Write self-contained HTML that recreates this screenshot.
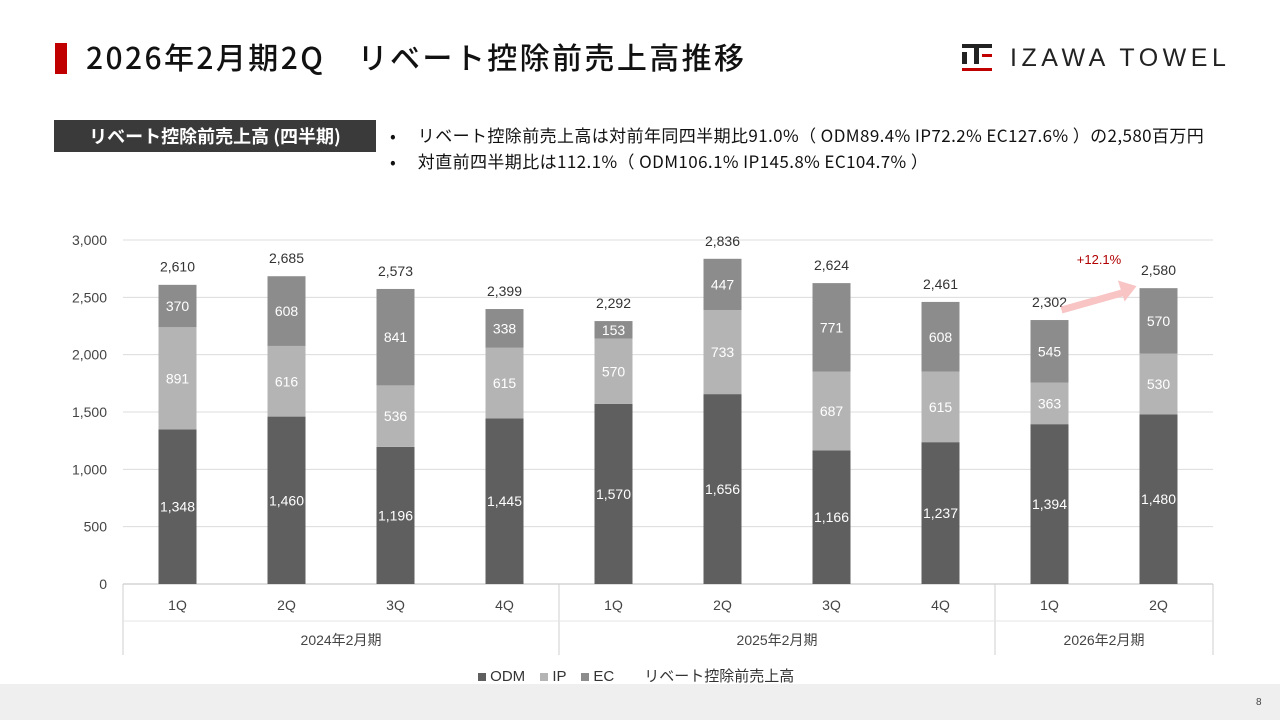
<!DOCTYPE html>
<html><head><meta charset="utf-8"><style>
body{margin:0;width:1280px;height:720px;background:#fff;font-family:"Liberation Sans","Noto Sans CJK JP",sans-serif;position:relative;overflow:hidden}
.abs{position:absolute}
</style></head><body>
<div class="abs" style="left:55px;top:43px;width:12px;height:31px;background:#c00000"></div>
<div class="abs" style="left:86px;top:34px;font-family:'Noto Sans CJK JP',sans-serif;font-size:30px;font-weight:500;color:#111;letter-spacing:2.4px;white-space:nowrap">2026年2月期2Q　リベート控除前売上高推移</div>
<div class="abs" style="left:962px;top:44px;width:32px;height:28px">
 <div class="abs" style="left:0;top:0;width:30px;height:4px;background:#222"></div>
 <div class="abs" style="left:0;top:8px;width:5px;height:12px;background:#222"></div>
 <div class="abs" style="left:12px;top:0;width:5px;height:20px;background:#222"></div>
 <div class="abs" style="left:20px;top:10px;width:10px;height:3px;background:#c00000"></div>
 <div class="abs" style="left:0;top:24px;width:30px;height:3px;background:#c00000"></div>
</div>
<div class="abs" style="left:1010px;top:44px;font-size:25px;letter-spacing:4.5px;color:#222">IZAWA TOWEL</div>
<div class="abs" style="left:54px;top:120px;width:322px;height:32px;background:#3a3a3a;color:#fff;font-family:'Noto Sans CJK JP',sans-serif;font-size:18px;font-weight:bold;line-height:32px;text-align:center">リベート控除前売上高 (四半期)</div>
<div class="abs" style="left:390px;top:122px;font-family:'Noto Sans CJK JP',sans-serif;font-size:17px;letter-spacing:0.4px;color:#111;white-space:nowrap">•　 リベート控除前売上高は対前年同四半期比91.0%（ ODM89.4% IP72.2% EC127.6% ）の2,580百万円</div>
<div class="abs" style="left:390px;top:148px;font-family:'Noto Sans CJK JP',sans-serif;font-size:17px;letter-spacing:0.4px;color:#111;white-space:nowrap">•　 対直前四半期比は112.1%（ ODM106.1% IP145.8% EC104.7% ）</div>
<svg class="abs" style="left:0;top:0" width="1280" height="720" id="chart"></svg>
<div class="abs" style="left:0;top:684px;width:1280px;height:36px;background:#efefef"></div>
<div class="abs" style="left:478px;top:665px;font-size:15px;color:#333">
<span style="display:inline-block;width:8px;height:8px;background:#5f5f5f"></span> ODM　<span style="display:inline-block;width:8px;height:8px;background:#b4b4b4"></span> IP　<span style="display:inline-block;width:8px;height:8px;background:#8c8c8c"></span> EC　　リベート控除前売上高</div>
<div class="abs" style="left:1256px;top:697px;font-size:10px;color:#444">8</div>
<script>
const categories=["1Q","2Q","3Q","4Q","1Q","2Q","3Q","4Q","1Q","2Q"];
const years=["2024年2月期","2025年2月期","2026年2月期"];
const yearSpans=[4,4,2];
const odm=[1348,1460,1196,1445,1570,1656,1166,1237,1394,1480];
const ip=[891,616,536,615,570,733,687,615,363,530];
const ec=[370,608,841,338,153,447,771,608,545,570];
const totals=[2610,2685,2573,2399,2292,2836,2624,2461,2302,2580];
const yTicks=[0,500,1000,1500,2000,2500,3000];
const ns="http://www.w3.org/2000/svg",svg=document.getElementById('chart');
const L=123,R=1213,Y0=584,Y1=240,cw=(R-L)/categories.length,bw=38;
const y=v=>Y0-(Y0-Y1)*v/3000,x=i=>L+cw*(i+0.5);
function el(t,a,txt){const e=document.createElementNS(ns,t);for(const k in a)e.setAttribute(k,a[k]);if(txt!=null)e.textContent=txt;svg.appendChild(e);return e;}
yTicks.forEach(t=>{
 const g=el('line',{x1:L,x2:R,y1:y(t),y2:y(t),stroke:t?'#dcdcdc':'#bfbfbf'});


 const tx=el('text',{x:107,y:y(t)+5,'text-anchor':'end','font-size':14,fill:'#444'},t.toLocaleString());


});
const fmt=v=>v.toLocaleString();
categories.forEach((c,i)=>{
 const segs=[[0,odm[i],'#5f5f5f'],[odm[i],odm[i]+ip[i],'#b4b4b4'],[odm[i]+ip[i],odm[i]+ip[i]+ec[i],'#8c8c8c']];
 const names=['bar-odm','bar-ip','bar-ec'],vals=[odm[i],ip[i],ec[i]];
 segs.forEach((s,k)=>{
  const r=el('rect',{x:x(i)-bw/2,y:y(s[1]),width:bw,height:y(s[0])-y(s[1]),fill:s[2]});


  const t=el('text',{x:x(i),y:(y(s[0])+y(s[1]))/2+5,'text-anchor':'middle','font-size':14,fill:'#fff'},fmt(vals[k]));


 });
 const tt=el('text',{x:x(i),y:y(totals[i])-13,'text-anchor':'middle','font-size':14,fill:'#333'},fmt(totals[i]));


 const cl=el('text',{x:x(i),y:610,'text-anchor':'middle','font-size':14,fill:'#444'},c);


});
let s=0;
el('line',{x1:L,x2:L,y1:Y0,y2:655,stroke:'#cfcfcf'});
years.forEach((yr,j)=>{
 const x0=L+cw*s;s+=yearSpans[j];const x1=L+cw*s;
 el('line',{x1:x1,x2:x1,y1:Y0,y2:655,stroke:'#cfcfcf'});
 const t=el('text',{x:(x0+x1)/2,y:645,'text-anchor':'middle','font-size':14,fill:'#444'},yr);


});
el('line',{x1:L,x2:R,y1:621,y2:621,stroke:'#e4e4e4'});
const a1=x(8)+12,b1=y(totals[8])-10,a2=x(9)-22,b2=y(totals[9])-2;
const ar=el('line',{x1:a1,y1:b1,x2:a2-8,y2:b2+5,stroke:'#f8c4c4','stroke-width':7});


const ang=Math.atan2(b2-b1,a2-a1),hl=16,hw=11;
const px=a2-hl*Math.cos(ang),py=b2-hl*Math.sin(ang);
el('polygon',{points:`${a2},${b2} ${px+hw*Math.sin(ang)},${py-hw*Math.cos(ang)} ${px-hw*Math.sin(ang)},${py+hw*Math.cos(ang)}`,fill:'#f8c4c4'});
const gl=el('text',{x:1099,y:264,'text-anchor':'middle','font-size':13,fill:'#b00000'},'+12.1%');


</script>
</body></html>
